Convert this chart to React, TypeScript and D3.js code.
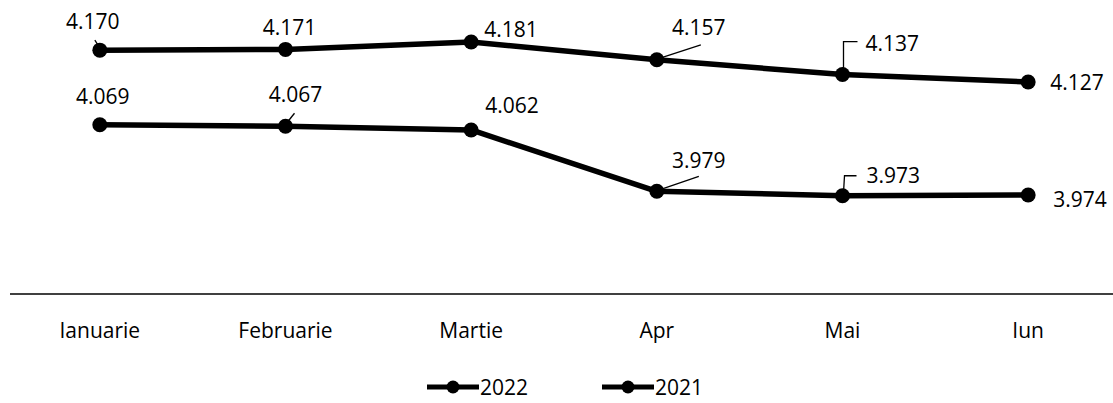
import React, { useEffect, useRef } from "react";
import * as d3 from "d3";

// data
const months = ["Ianuarie", "Februarie", "Martie", "Apr", "Mai", "Iun"];
const values2022 = [4.17, 4.171, 4.181, 4.157, 4.137, 4.127];
const values2021 = [4.069, 4.067, 4.062, 3.979, 3.973, 3.974];
const seriesNames = ["2022", "2021"];

// where each data label goes, relative to its point: dx, dy, anchor, leader path
type Place = { dx: number; dy: number; anchor: string; leader?: number[][] };
const place2022: Place[] = [
  { dx: -7, dy: -21, anchor: "middle", leader: [[0, -2], [-5, -10]] },
  { dx: 4, dy: -14, anchor: "middle" },
  { dx: 13, dy: -5, anchor: "start" },
  { dx: 42, dy: -25, anchor: "middle", leader: [[4, -2], [44, -15]] },
  { dx: 23, dy: -24, anchor: "start", leader: [[1, -3], [1, -33], [15, -33]] },
  { dx: 22, dy: 8, anchor: "start" },
];
const place2021: Place[] = [
  { dx: 3, dy: -21, anchor: "middle" },
  { dx: 10, dy: -24, anchor: "middle", leader: [[1, -3], [9, -13]] },
  { dx: 14, dy: -17, anchor: "start" },
  { dx: 42, dy: -23, anchor: "middle", leader: [[4, -2], [42, -15]] },
  { dx: 24, dy: -13, anchor: "start", leader: [[1, -3], [2, -20], [14, -20]] },
  { dx: 25, dy: 12, anchor: "start" },
];

const App = () => {
  const ref = useRef<SVGSVGElement>(null);

  useEffect(() => {
    let width = 1113,
      height = 403;
    let font = "'Open Sans', 'DejaVu Sans', sans-serif";

    let svg = d3.select(ref.current);
    svg.selectAll("*").remove();

    svg
      .append("rect")
      .attr("width", width)
      .attr("height", height)
      .attr("fill", "#fff");

    let x = d3.scalePoint().domain(months).range([7, 1121]).padding(0.5);
    let y = d3.scaleLinear().domain([3.84, 4.2]).range([294, 28]);
    let fmt = d3.format(".3f");

    // category axis: just a line and the month names
    svg
      .append("line")
      .attr("x1", 10)
      .attr("x2", width)
      .attr("y1", y(3.84))
      .attr("y2", y(3.84))
      .attr("stroke", "#000")
      .attr("stroke-width", 1.6);

    svg
      .append("g")
      .selectAll("text")
      .data(months)
      .enter()
      .append("text")
      .attr("x", (d) => x(d) as number)
      .attr("y", 338)
      .attr("text-anchor", "middle")
      .attr("font-family", font)
      .attr("font-size", 21)
      .attr("fill", "#000")
      .text((d) => d);

    let line = d3
      .line<number>()
      .x((d, i) => x(months[i]) as number)
      .y((d) => y(d));

    let series = [
      { name: seriesNames[0], values: values2022, place: place2022 },
      { name: seriesNames[1], values: values2021, place: place2021 },
    ];

    series.forEach((s) => {
      let g = svg.append("g");
      g.append("path")
        .datum(s.values)
        .attr("d", line)
        .attr("fill", "none")
        .attr("stroke", "#000")
        .attr("stroke-width", 5.5)
        .attr("stroke-linejoin", "round");

      g.selectAll("circle")
        .data(s.values)
        .enter()
        .append("circle")
        .attr("cx", (d, i) => x(months[i]) as number)
        .attr("cy", (d) => y(d))
        .attr("r", 7.5)
        .attr("fill", "#000");

      s.values.forEach((v, i) => {
        let px = x(months[i]) as number,
          py = y(v),
          p = s.place[i];
        if (p.leader) {
          g.append("path")
            .attr(
              "d",
              "M" + p.leader.map((q) => px + q[0] + "," + (py + q[1])).join("L")
            )
            .attr("fill", "none")
            .attr("stroke", "#000")
            .attr("stroke-width", 1.3);
        }
        g.append("text")
          .attr("x", px + p.dx)
          .attr("y", py + p.dy)
          .attr("text-anchor", p.anchor)
          .attr("font-family", font)
          .attr("font-size", 21)
          .attr("fill", "#000")
          .text(fmt(v));
      });
    });

    // legend
    let legend = svg
      .append("g")
      .selectAll("g")
      .data(seriesNames)
      .enter()
      .append("g")
      .attr("transform", (d, i) => "translate(" + (427 + i * 175) + ",387)");

    legend
      .append("line")
      .attr("x1", 0)
      .attr("x2", 52)
      .attr("stroke", "#000")
      .attr("stroke-width", 5);
    legend.append("circle").attr("cx", 26).attr("r", 6.5).attr("fill", "#000");
    legend
      .append("text")
      .attr("x", 53)
      .attr("y", 8)
      .attr("font-family", font)
      .attr("font-size", 21)
      .attr("fill", "#000")
      .text((d) => d);
  }, []);

  return (
    <div style={{ position: "absolute", left: 0, top: 0 }}>
      <svg ref={ref} width={1113} height={403} style={{ display: "block" }} />
    </div>
  );
};

export default App;
